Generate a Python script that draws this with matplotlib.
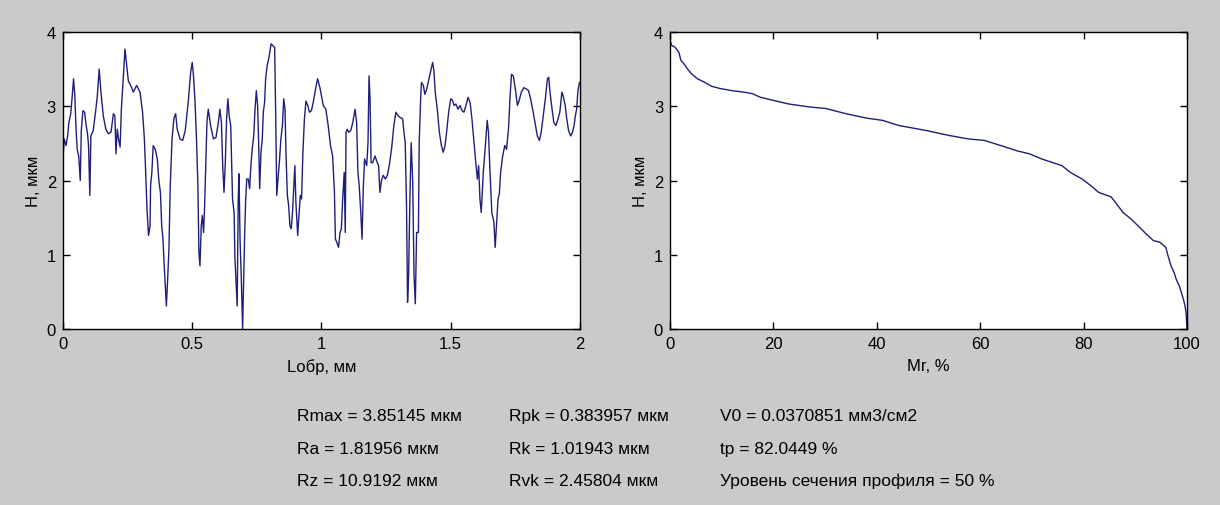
import matplotlib
matplotlib.use('Agg')
import matplotlib.pyplot as plt

plt.rcParams['font.family'] = ['Liberation Sans', 'DejaVu Sans']

# profile: length (mm) and height (um)
prof_x = [0.000, 0.005, 0.012, 0.018, 0.023, 0.030, 0.036, 0.041, 0.046, 0.050,
          0.055, 0.061, 0.067, 0.071, 0.077, 0.084, 0.089, 0.095, 0.099, 0.104,
          0.108, 0.117, 0.126, 0.133, 0.140, 0.147, 0.156, 0.166, 0.175, 0.186,
          0.195, 0.201, 0.205, 0.210, 0.215, 0.221, 0.226, 0.233, 0.240, 0.246,
          0.253, 0.266, 0.272, 0.285, 0.298, 0.308, 0.315, 0.320, 0.325, 0.331,
          0.337, 0.339, 0.344, 0.349, 0.357, 0.365, 0.371, 0.377, 0.382, 0.387,
          0.391, 0.396, 0.400, 0.405, 0.410, 0.415, 0.422, 0.429, 0.436, 0.442,
          0.453, 0.463, 0.473, 0.485, 0.494, 0.500, 0.505, 0.511, 0.517, 0.522,
          0.526, 0.530, 0.535, 0.539, 0.544, 0.548, 0.553, 0.557, 0.562, 0.566,
          0.571, 0.582, 0.592, 0.601, 0.607, 0.613, 0.618, 0.623, 0.628, 0.633,
          0.638, 0.643, 0.649, 0.652, 0.656, 0.662, 0.665, 0.669, 0.674, 0.678,
          0.681, 0.685, 0.690, 0.695, 0.699, 0.703, 0.707, 0.711, 0.717, 0.722,
          0.727, 0.732, 0.738, 0.743, 0.748, 0.753, 0.757, 0.761, 0.766, 0.771,
          0.775, 0.780, 0.784, 0.790, 0.797, 0.805, 0.811, 0.819, 0.823, 0.827,
          0.832, 0.838, 0.843, 0.849, 0.854, 0.859, 0.863, 0.868, 0.873, 0.878,
          0.883, 0.888, 0.892, 0.897, 0.901, 0.908, 0.913, 0.918, 0.923, 0.928,
          0.934, 0.940, 0.947, 0.953, 0.961, 0.968, 0.977, 0.985, 0.994, 1.007,
          1.017, 1.026, 1.035, 1.043, 1.050, 1.054, 1.059, 1.066, 1.072, 1.077,
          1.082, 1.088, 1.092, 1.095, 1.100, 1.105, 1.113, 1.121, 1.130, 1.136,
          1.141, 1.146, 1.152, 1.157, 1.162, 1.167, 1.175, 1.180, 1.184, 1.188,
          1.192, 1.198, 1.207, 1.216, 1.221, 1.226, 1.232, 1.239, 1.247, 1.255,
          1.262, 1.271, 1.280, 1.288, 1.297, 1.304, 1.314, 1.319, 1.324, 1.329,
          1.333, 1.337, 1.342, 1.347, 1.353, 1.358, 1.363, 1.368, 1.375, 1.378,
          1.384, 1.387, 1.394, 1.400, 1.407, 1.414, 1.422, 1.430, 1.435, 1.440,
          1.448, 1.456, 1.464, 1.471, 1.478, 1.484, 1.492, 1.500, 1.507, 1.513,
          1.520, 1.528, 1.536, 1.544, 1.551, 1.559, 1.567, 1.575, 1.582, 1.590,
          1.598, 1.603, 1.608, 1.613, 1.618, 1.626, 1.634, 1.641, 1.646, 1.652,
          1.659, 1.667, 1.672, 1.677, 1.683, 1.688, 1.693, 1.701, 1.709, 1.716,
          1.724, 1.729, 1.735, 1.742, 1.750, 1.758, 1.765, 1.773, 1.783, 1.794,
          1.801, 1.809, 1.819, 1.827, 1.835, 1.843, 1.850, 1.858, 1.866, 1.874,
          1.879, 1.884, 1.892, 1.899, 1.907, 1.915, 1.922, 1.930, 1.935, 1.943,
          1.948, 1.956, 1.964, 1.971, 1.977, 1.982, 1.987, 1.992, 1.998]
prof_h = [2.29, 2.56, 2.47, 2.60, 2.78, 2.90, 3.14, 3.37, 3.14, 2.74,
          2.42, 2.33, 2.00, 2.67, 2.94, 2.92, 2.76, 2.63, 2.47, 1.80,
          2.60, 2.67, 2.92, 3.14, 3.50, 3.19, 2.87, 2.69, 2.63, 2.65,
          2.90, 2.87, 2.36, 2.69, 2.56, 2.45, 2.96, 3.37, 3.77, 3.57,
          3.34, 3.25, 3.19, 3.28, 3.19, 2.92, 2.56, 2.11, 1.62, 1.26,
          1.39, 1.93, 2.11, 2.47, 2.42, 2.29, 2.00, 1.84, 1.39, 1.21,
          0.90, 0.58, 0.31, 0.67, 1.08, 1.93, 2.56, 2.83, 2.90, 2.69,
          2.56, 2.54, 2.67, 3.07, 3.46, 3.59, 3.41, 3.05, 2.51, 1.93,
          1.03, 0.85, 1.39, 1.53, 1.30, 1.66, 2.29, 2.78, 2.96, 2.87,
          2.74, 2.56, 2.58, 2.78, 2.96, 2.78, 2.20, 1.84, 2.24, 2.83,
          3.10, 2.87, 2.74, 2.33, 1.75, 1.57, 0.99, 0.67, 0.31, 1.75,
          2.09, 1.21, 0.67, 0.00, 0.63, 1.30, 1.75, 2.02, 2.02, 1.89,
          2.20, 2.42, 2.60, 2.96, 3.21, 3.01, 2.51, 1.89, 2.38, 2.56,
          2.92, 3.05, 3.37, 3.55, 3.66, 3.84, 3.82, 3.79, 2.87, 1.80,
          2.02, 2.29, 2.56, 2.74, 3.10, 2.96, 2.33, 1.80, 1.66, 1.39,
          1.35, 1.57, 1.84, 2.20, 1.71, 1.26, 1.53, 1.80, 1.75, 2.36,
          2.83, 3.07, 3.01, 2.92, 2.94, 3.05, 3.23, 3.37, 3.25, 3.01,
          2.96, 2.74, 2.47, 2.33, 1.86, 1.21, 1.17, 1.10, 1.30, 1.35,
          1.75, 2.11, 1.30, 2.65, 2.69, 2.65, 2.67, 2.78, 2.96, 2.78,
          2.11, 1.93, 1.57, 1.21, 1.93, 2.29, 2.20, 2.51, 3.41, 3.10,
          2.24, 2.24, 2.33, 2.24, 2.20, 1.84, 2.00, 2.07, 2.02, 2.07,
          2.20, 2.42, 2.74, 2.92, 2.87, 2.85, 2.83, 2.65, 2.51, 1.66,
          0.36, 0.72, 1.75, 2.51, 1.98, 0.72, 0.34, 1.30, 1.30, 2.51,
          3.14, 3.32, 3.28, 3.16, 3.23, 3.34, 3.46, 3.59, 3.48, 3.19,
          2.96, 2.65, 2.47, 2.38, 2.47, 2.65, 2.92, 3.10, 3.08, 3.01,
          3.03, 2.96, 3.01, 2.94, 2.92, 3.01, 3.12, 3.05, 2.83, 2.51,
          2.20, 2.02, 2.20, 1.75, 1.57, 2.11, 2.47, 2.81, 2.65, 2.11,
          1.57, 1.44, 1.10, 1.39, 1.75, 1.82, 2.11, 2.33, 2.47, 2.42,
          2.72, 3.10, 3.43, 3.41, 3.23, 3.01, 3.08, 3.19, 3.25, 3.23,
          3.21, 3.10, 2.92, 2.76, 2.60, 2.54, 2.65, 2.87, 3.10, 3.37,
          3.39, 3.19, 2.96, 2.78, 2.74, 2.83, 2.92, 3.19, 3.14, 3.01,
          2.85, 2.67, 2.60, 2.65, 2.74, 2.87, 2.96, 3.21, 3.32]

# bearing (Abbott) curve: material ratio (%) and height (um)
mr_pct = [0.0, 0.3, 0.9, 1.7, 2.1, 2.7, 3.3, 4.1, 5.3, 6.5,
          8.0, 9.6, 12.0, 14.3, 15.9, 17.5, 19.9, 23.0, 27.0, 30.1,
          34.0, 38.0, 41.1, 44.3, 45.9, 49.8, 53.7, 57.7, 60.8, 64.0,
          67.1, 69.5, 71.9, 75.8, 77.4, 79.7, 81.4, 82.9, 85.3, 86.1,
          87.6, 89.2, 90.8, 92.4, 93.5, 94.7, 95.9, 96.3, 96.9, 97.5,
          97.9, 98.5, 98.9, 99.3, 99.6, 99.8, 99.9, 100.0]
mr_h = [3.89, 3.82, 3.80, 3.73, 3.62, 3.57, 3.51, 3.44, 3.37, 3.33,
        3.27, 3.24, 3.21, 3.19, 3.17, 3.12, 3.08, 3.03, 2.99, 2.97,
        2.90, 2.84, 2.81, 2.74, 2.72, 2.67, 2.61, 2.56, 2.54, 2.47,
        2.40, 2.36, 2.29, 2.20, 2.11, 2.02, 1.93, 1.84, 1.78, 1.71,
        1.57, 1.48, 1.37, 1.26, 1.19, 1.17, 1.10, 0.99, 0.85, 0.76,
        0.67, 0.58, 0.49, 0.40, 0.31, 0.22, 0.11, 0.00]

x_ticks_left = [0, 0.5, 1, 1.5, 2]
x_ticks_right = [0, 20, 40, 60, 80, 100]
y_ticks = [0, 1, 2, 3, 4]

stats = [
    ['Rmax = 3.85145 мкм', 'Rpk = 0.383957 мкм', 'V0 = 0.0370851 мм3/см2'],
    ['Ra = 1.81956 мкм', 'Rk = 1.01943 мкм', 'tp = 82.0449 %'],
    ['Rz = 10.9192 мкм', 'Rvk = 2.45804 мкм', 'Уровень сечения профиля = 50 %'],
]

bg = '#cacaca'
line_color = '#1f1f7a'

fig = plt.figure(figsize=(12.2, 5.06), dpi=100, facecolor=bg)
ax1 = fig.add_axes([0.0516, 0.3478, 0.4238, 0.587])
ax2 = fig.add_axes([0.5492, 0.3478, 0.4238, 0.587])

ax1.plot(prof_x, prof_h, color=line_color, lw=1.0)
ax2.plot(mr_pct, mr_h, color=line_color, lw=1.0)

for ax, xt, xl in [(ax1, x_ticks_left, 'Lобр, мм'), (ax2, x_ticks_right, 'Mr, %')]:
    ax.set_xlim(xt[0], xt[-1])
    ax.set_ylim(0, 4)
    ax.set_xticks(xt)
    ax.set_xticklabels([f'{t:g}' for t in xt])
    ax.set_yticks(y_ticks)
    ax.tick_params(direction='in', top=True, right=True, length=5, width=1,
                   labelsize=12, pad=5, colors='black')
    for s in ax.spines.values():
        s.set_linewidth(1.0)
        s.set_color('black')
    ax.set_xlabel(xl, fontsize=12, labelpad=5)
    ax.set_ylabel('H, мкм', fontsize=12, labelpad=4)
    ax.set_facecolor('white')

col_x = [0.2434, 0.4172, 0.5902]
row_y = [0.1759, 0.1126, 0.0494]
for r, row in enumerate(stats):
    for c, txt in enumerate(row):
        fig.text(col_x[c], row_y[r], txt, fontsize=12.5, ha='left', va='center')

fig.savefig('out.png', dpi=100, facecolor=bg)
